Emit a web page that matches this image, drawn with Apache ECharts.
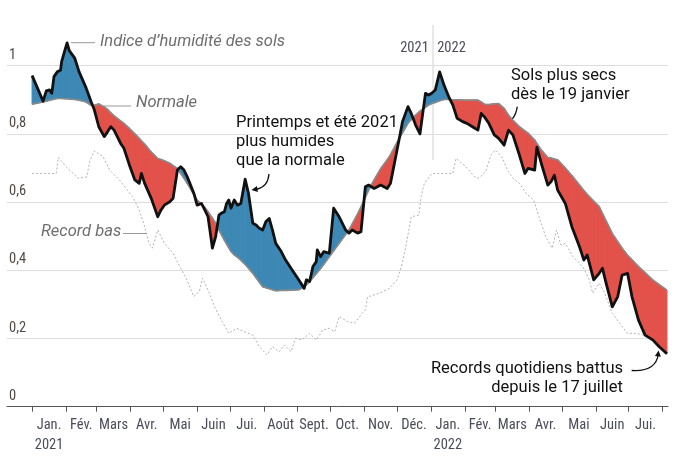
<!DOCTYPE html>
<html><head><meta charset="utf-8">
<script src="https://cdn.jsdelivr.net/npm/echarts@6/dist/echarts.min.js"></script>
<style>html,body{margin:0;padding:0;background:#fff}#c{width:695px;height:469px}</style>
</head><body><div id="c"></div>
<script>
// Month labels (x axis) and month starts, in days since 1 Jan 2021
const moisLabels = ['Jan.\n2021','Fév.','Mars','Avr.','Mai','Juin','Jui.','Août','Sept.','Oct.','Nov.','Déc.','Jan.\n2022','Fév.','Mars','Avr.','Mai','Juin','Jui.'];
const debutsMois = [0,31,59,90,120,151,181,212,243,273,304,334,365,396,424,455,485,516,546,577];
const yTicks = [0,0.2,0.4,0.6,0.8,1];

// Soil moisture index and normal, read on the same days (days since 1 Jan 2021)
const jours = [0,10,13,16,18,20,23,26,27,30,32,34,39,43,49,54,57,61,66,69,72,75,81,84,89,94,98,100,103,109,115,118,121,126,129,133,136,139,142,148,151,155,158,161,165,168,171,173,176,178,180,182,185,188,191,195,198,202,205,208,211,214,217,220,223,228,232,238,244,249,251,254,257,260,261,264,267,272,276,281,287,290,293,298,301,305,308,313,319,325,328,331,334,337,339,344,347,351,355,360,363,366,369,373,377,382,385,389,394,398,403,408,411,414,418,423,427,432,436,440,446,451,454,460,462,466,472,475,478,481,488,494,501,505,508,514,519,522,525,531,536,540,545,549,555,561,568,574,581];
const indice = [.971,.896,.926,.929,.919,.968,.982,.987,1.012,1.046,1.067,1.044,1.022,.982,.938,.894,.870,.821,.792,.806,.821,.811,.772,.758,.709,.665,.655,.684,.655,.611,.557,.577,.591,.601,.611,.694,.704,.694,.674,.626,.591,.596,.577,.557,.465,.499,.562,.567,.572,.596,.606,.582,.606,.591,.596,.667,.626,.538,.533,.523,.518,.543,.552,.518,.479,.455,.430,.401,.372,.347,.372,.367,.411,.425,.460,.440,.455,.450,.582,.557,.518,.509,.518,.509,.513,.645,.650,.640,.650,.640,.655,.704,.753,.802,.836,.880,.860,.826,.800,.919,.914,.920,.929,.982,.943,.904,.885,.846,.836,.831,.821,.811,.860,.850,.831,.797,.787,.767,.811,.797,.738,.684,.699,.694,.761,.714,.650,.660,.679,.635,.596,.528,.469,.430,.445,.372,.391,.406,.367,.293,.323,.386,.391,.323,.254,.210,.196,.176,.155];
const normale = [.887,.894,.896,.899,.900,.902,.904,.904,.904,.903,.903,.902,.901,.899,.894,.884,.884,.888,.879,.872,.862,.853,.838,.831,.816,.800,.787,.780,.770,.747,.728,.725,.721,.714,.707,.699,.684,.670,.655,.622,.606,.594,.585,.572,.553,.538,.518,.506,.488,.477,.466,.455,.445,.438,.430,.417,.406,.391,.378,.365,.352,.349,.346,.343,.340,.341,.341,.342,.343,.351,.357,.367,.378,.390,.393,.405,.418,.440,.457,.479,.505,.518,.536,.566,.586,.614,.635,.665,.698,.724,.739,.757,.775,.792,.803,.831,.842,.855,.867,.878,.885,.889,.892,.897,.901,.901,.900,.900,.899,.899,.899,.899,.894,.887,.886,.888,.889,.875,.855,.840,.821,.809,.802,.782,.772,.753,.731,.729,.726,.724,.700,.678,.650,.634,.623,.603,.587,.567,.547,.508,.484,.465,.444,.431,.411,.393,.372,.358,.342];

// Daily low record
const recordJours = [0,22,24,31,42,50,53,57,65,71,80,86,92,98,103,107,110,115,118,121,129,136,141,148,153,156,161,167,173,180,187,194,202,208,215,220,226,231,237,241,247,254,260,266,272,277,281,289,295,301,305,307,318,327,334,338,342,347,354,356,359,366,385,388,397,405,409,415,420,424,430,435,440,446,452,459,464,470,476,480,484,488,495,504,510,513,519,524,531,540,545,553,559];
const recordBas = [.684,.684,.731,.704,.670,.674,.723,.750,.733,.694,.665,.640,.616,.577,.528,.479,.465,.518,.499,.479,.450,.406,.377,.323,.337,.377,.342,.293,.255,.215,.230,.220,.210,.176,.152,.176,.161,.181,.161,.201,.196,.215,.196,.225,.230,.220,.264,.249,.245,.269,.284,.322,.333,.347,.372,.411,.469,.557,.562,.616,.655,.684,.684,.728,.704,.674,.670,.689,.738,.753,.733,.694,.670,.655,.626,.606,.557,.499,.465,.518,.474,.479,.440,.411,.372,.333,.362,.333,.274,.235,.215,.215,.210];

const BLUE = '#3d88b4', RED = '#e2524a';
const AXF = '"Liberation Sans Narrow","Roboto Condensed","DejaVu Sans Condensed",sans-serif';
const ANF = 'Roboto, "Noto Sans", sans-serif';

const milieux = moisLabels.map((_, i) => (debutsMois[i] + debutsMois[i + 1]) / 2);
const labelMap = {};
milieux.forEach((m, i) => { labelMap[m] = moisLabels[i]; });

// Fill between index and normal: one polygon per segment, split where the curves cross
function renderEcart(params, api) {
  const i = params.dataIndex;
  if (i >= jours.length - 1) return null;
  const a0 = indice[i] - normale[i], a1 = indice[i + 1] - normale[i + 1];
  const pi0 = api.coord([jours[i], indice[i]]), pn0 = api.coord([jours[i], normale[i]]);
  const pi1 = api.coord([jours[i + 1], indice[i + 1]]), pn1 = api.coord([jours[i + 1], normale[i + 1]]);
  const col = a => (a >= 0 ? BLUE : RED);
  const poly = (pts, c) => ({type: 'polygon', shape: {points: pts}, style: {fill: c, stroke: c, lineWidth: 1.1, lineJoin: 'round'}});
  let children;
  if (a0 * a1 >= 0) {
    children = [poly([pi0, pi1, pn1, pn0], col(a0 + a1))];
  } else {
    const f = a0 / (a0 - a1);
    const pc = [pi0[0] + f * (pi1[0] - pi0[0]), pi0[1] + f * (pi1[1] - pi0[1])];
    children = [poly([pi0, pc, pn0], col(a0)), poly([pc, pi1, pn1], col(a1))];
  }
  return {type: 'group', children};
}

const chart = echarts.init(document.getElementById('c'), null, {renderer: 'canvas'});
chart.setOption({
  animation: false,
  backgroundColor: '#fff',
  grid: {left: 7, right: 27, top: 65.7, bottom: 62.3, containLabel: false},
  xAxis: {
    type: 'value', min: -23, max: 582,
    axisLine: {show: true, lineStyle: {color: '#555', width: 1}},
    axisTick: {show: true, customValues: debutsMois, length: 5, lineStyle: {color: '#555'}},
    axisLabel: {
      customValues: milieux, margin: 9, color: '#4a4d5a', fontFamily: AXF, fontSize: 14.5, lineHeight: 20,
      formatter: v => labelMap[v] || ''
    },
    splitLine: {show: false}
  },
  yAxis: {
    type: 'value', min: 0, max: 1, interval: 0.2,
    axisLine: {show: false}, axisTick: {show: false},
    splitLine: {show: true, lineStyle: {color: '#dedede', width: 1}},
    axisLabel: {
      inside: true, margin: 2, verticalAlign: 'bottom', padding: [0, 0, 3, 0],
      color: '#524b45', fontFamily: AXF, fontSize: 14.5,
      formatter: v => String(Math.round(v * 10) / 10).replace('.', ',')
    }
  },
  series: [
    {type: 'line', name: 'record', data: recordJours.map((d, i) => [d, recordBas[i]]), symbol: 'none', clip: false,
     lineStyle: {color: '#b3b3b3', width: 1, type: [2, 2]}, z: 1, silent: true},
    {type: 'custom', name: 'ecart', data: jours.map((d, i) => [d, indice[i], normale[i]]),
     encode: {x: 0, y: [1, 2]}, renderItem: renderEcart, clip: false, z: 2, silent: true},
    {type: 'line', name: 'normale', data: jours.map((d, i) => [d, normale[i]]), symbol: 'none', clip: false,
     lineStyle: {color: '#8a8a8a', width: 1.6}, z: 3, silent: true},
    {type: 'line', name: 'indice', data: jours.map((d, i) => [d, indice[i]]), symbol: 'none', clip: false,
     lineStyle: {color: '#111', width: 2.8, join: 'round'}, z: 4, silent: true}
  ],
  graphic: [
    {type: 'line', shape: {x1: 433, y1: 25, x2: 433, y2: 160}, style: {stroke: '#d2d2d2', lineWidth: 1}, z: 0},
    {type: 'text', x: 414.5, y: 48.5, style: {text: '2021', font: '14.5px ' + AXF, fill: '#4a4d5a', textAlign: 'center', textVerticalAlign: 'middle'}},
    {type: 'text', x: 451.5, y: 48.5, style: {text: '2022', font: '14.5px ' + AXF, fill: '#4a4d5a', textAlign: 'center', textVerticalAlign: 'middle'}},
    {type: 'line', shape: {x1: 71, y1: 42.7, x2: 95, y2: 42.7}, style: {stroke: '#999', lineWidth: 1}},
    {type: 'text', x: 100, y: 41.5, style: {text: 'Indice d’humidité des sols', font: 'italic 16.5px ' + ANF, fill: '#6e6e6e', textAlign: 'left', textVerticalAlign: 'middle'}},
    {type: 'line', shape: {x1: 104, y1: 106, x2: 131, y2: 106}, style: {stroke: '#999', lineWidth: 1}},
    {type: 'text', x: 136, y: 103, style: {text: 'Normale', font: 'italic 16.5px ' + ANF, fill: '#6e6e6e', textAlign: 'left', textVerticalAlign: 'middle'}},
    {type: 'line', shape: {x1: 123, y1: 233.5, x2: 147, y2: 233.5}, style: {stroke: '#999', lineWidth: 1}},
    {type: 'text', x: 41, y: 231.5, style: {text: 'Record bas', font: 'italic 16.5px ' + ANF, fill: '#6e6e6e', textAlign: 'left', textVerticalAlign: 'middle'}},
    {type: 'text', x: 236, y: 113.8, style: {text: 'Printemps et été 2021\nplus humides\nque la normale', font: '16.5px ' + ANF, fill: '#111', textAlign: 'left', textVerticalAlign: 'top', lineHeight: 19}},
    {type: 'bezierCurve', shape: {x1: 269, y1: 174, cpx1: 268, cpy1: 187, x2: 256, y2: 189.5}, style: {stroke: '#111', lineWidth: 1.3, fill: null}},
    {type: 'polygon', shape: {points: [[251.5, 190], [256.9, 185.9], [257.9, 191.9]]}, style: {fill: '#111'}},
    {type: 'text', x: 511, y: 66.5, style: {text: 'Sols plus secs\ndès le 19 janvier', font: '16.5px ' + ANF, fill: '#111', textAlign: 'left', textVerticalAlign: 'top', lineHeight: 19}},
    {type: 'bezierCurve', shape: {x1: 517.3, y1: 106.7, cpx1: 515, cpy1: 122, x2: 503, y2: 123.8}, style: {stroke: '#111', lineWidth: 1.3, fill: null}},
    {type: 'polygon', shape: {points: [[500, 124.2], [505.5, 120.4], [506.3, 126.4]]}, style: {fill: '#111'}},
    {type: 'text', x: 623, y: 359.8, style: {text: 'Records quotidiens battus\ndepuis le 17 juillet', font: '16.5px ' + ANF, fill: '#111', textAlign: 'right', textVerticalAlign: 'top', lineHeight: 19}},
    {type: 'bezierCurve', shape: {x1: 631.7, y1: 370.5, cpx1: 656, cpy1: 372, x2: 658.3, y2: 354}, style: {stroke: '#111', lineWidth: 1.3, fill: null}},
    {type: 'polygon', shape: {points: [[658.6, 350.5], [660.9, 356.8], [654.9, 356.0]]}, style: {fill: '#111'}}
  ]
});
</script>
</body></html>
